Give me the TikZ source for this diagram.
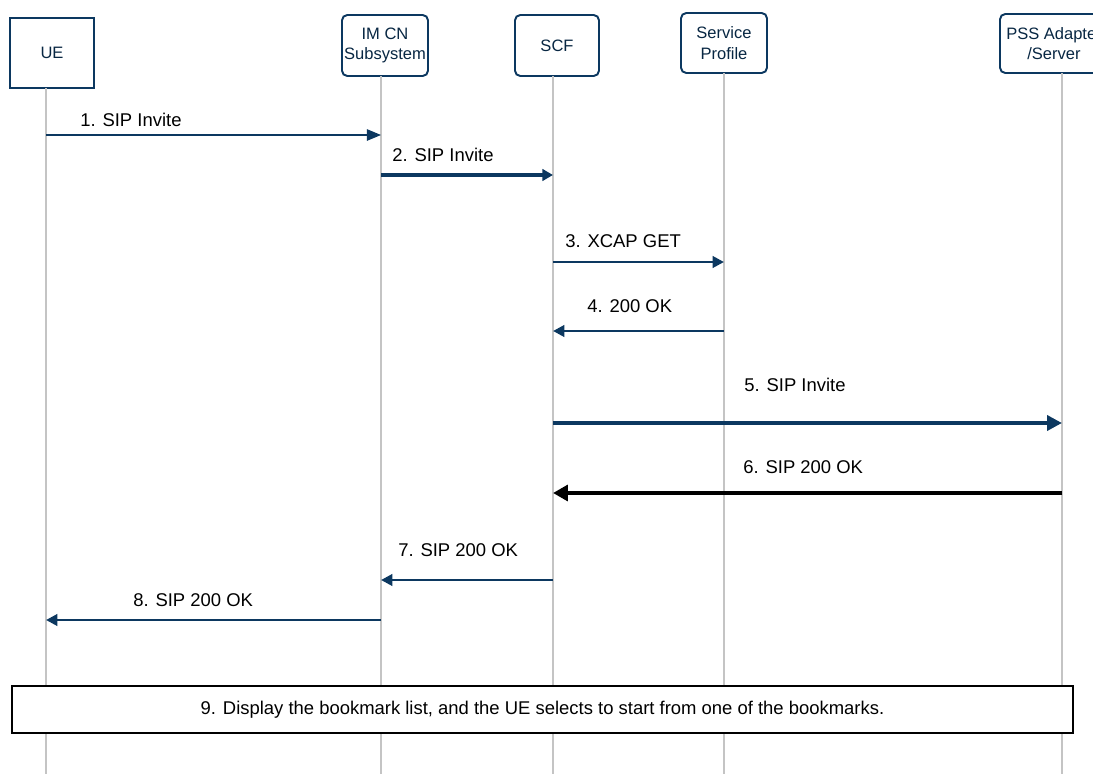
\documentclass[tikz,border=0pt]{standalone}
\usepackage{fontspec}
\setmainfont{Liberation Sans}
\usetikzlibrary{arrows.meta}
\definecolor{navy}{RGB}{12,56,96}
\definecolor{lifegray}{RGB}{196,196,196}

\begin{document}
\begin{tikzpicture}[x=0.02cm, y=-0.02cm,
  every node/.style={font=\fontsize{10.5}{12}\selectfont},
  actor/.style={draw=navy, line width=1.1pt, fill=white, rounded corners=3pt,
    minimum width=1.72cm, minimum height=1.22cm, inner sep=1pt, align=center,
    text=navy!70!black, font=\fontsize{9.4}{11.5}\selectfont},
  lifeline/.style={draw=lifegray, line width=0.8pt},
  msg/.style={draw=navy, line width=1.7pt, -{Triangle[length=6.5pt,width=6.5pt]}},
  lbl/.style={anchor=west, inner sep=0pt}]
  \useasboundingbox (0,0) rectangle (1093,774);
  \coordinate (bot) at (0,774);
  \node[actor, rounded corners=0pt, minimum width=1.68cm, minimum height=1.4cm] (ue) at (52,53) {UE};
  \node[actor] (ims) at (385,45.5) {IM CN\\Subsystem};
  \node[actor, minimum width=1.68cm] (scf) at (557,45.5) {SCF};
  \node[actor, minimum height=1.2cm] (prof) at (724,43) {Service\\Profile};
  \node[actor, minimum width=2.16cm, minimum height=1.18cm] (pss) at (1054,43.5) {PSS Adapter\\/Server};
  \coordinate (ueL) at (46,88);
  \coordinate (imsL) at (381,76);
  \coordinate (scfL) at (553,76);
  \coordinate (profL) at (724,73);
  \coordinate (pssL) at (1062,73);
  \draw[lifeline] (ueL) -- (ueL |- bot);
  \draw[lifeline] (imsL) -- (imsL |- bot);
  \draw[lifeline] (scfL) -- (scfL |- bot);
  \draw[lifeline] (profL) -- (profL |- bot);
  \draw[lifeline] (pssL) -- (pssL |- bot);
  \coordinate (r1) at (0,135);
  \coordinate (r2) at (0,175);
  \coordinate (r3) at (0,262);
  \coordinate (r4) at (0,331);
  \coordinate (r5) at (0,423);
  \coordinate (r6) at (0,493);
  \coordinate (r7) at (0,580);
  \coordinate (r8) at (0,620);
  \draw[msg, line width=0.7pt, -{Triangle[length=8pt,width=6.5pt]}] (ueL |- r1) -- (imsL |- r1);
  \node[lbl] (t1) at (80,120) {1. SIP Invite};
  \draw[msg, line width=2.3pt, -{Triangle[length=6pt,width=6.5pt]}] (imsL |- r2) -- (scfL |- r2);
  \node[lbl] (t2) at (392,155) {2. SIP Invite};
  \draw[msg] (scfL |- r3) -- (profL |- r3);
  \node[lbl] (t3) at (565,241) {3. XCAP GET};
  \draw[msg] (profL |- r4) -- (scfL |- r4);
  \node[lbl] (t4) at (587,306) {4. 200 OK};
  \draw[msg, line width=2.1pt, -{Triangle[length=8.5pt,width=8.5pt]}] (scfL |- r5) -- (pssL |- r5);
  \node[lbl] (t5) at (744,385) {5. SIP Invite};
  \draw[msg, draw=black, line width=2.2pt, -{Triangle[length=8.5pt,width=9pt]}] (pssL |- r6) -- (scfL |- r6);
  \node[lbl] (t6) at (743,467) {6. SIP 200 OK};
  \draw[msg] (scfL |- r7) -- (imsL |- r7);
  \node[lbl] (t7) at (398,550) {7. SIP 200 OK};
  \draw[msg] (imsL |- r8) -- (ueL |- r8);
  \node[lbl] (t8) at (133,600) {8. SIP 200 OK};
  \node[draw, line width=1pt, fill=white, minimum width=21.22cm, minimum height=0.94cm] (note) at (542.5,709.5)
    {9. Display the bookmark list, and the UE selects to start from one of the bookmarks.};
\end{tikzpicture}
\end{document}
